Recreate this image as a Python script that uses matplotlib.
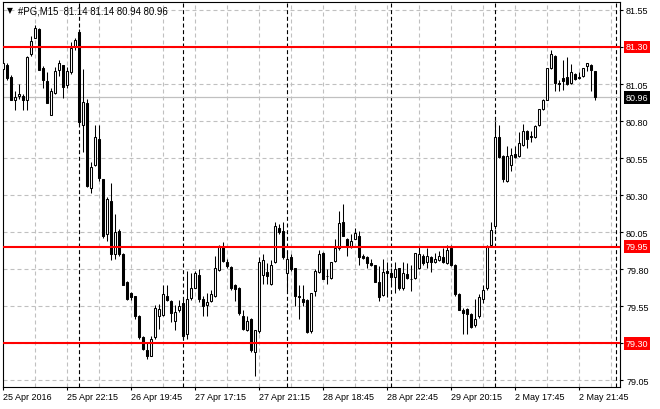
import matplotlib
matplotlib.use("Agg")
import matplotlib.pyplot as plt
import numpy as np

# PG M15 candles, 25 Apr - 2 May 2016
opens = [81.15, 81.18, 81.095, 80.94, 80.97, 80.97, 80.94, 81.25, 81.36, 81.42,
         81.156, 81.07, 80.84, 80.99, 81.147, 81.178, 81.043, 81.13, 81.30, 81.403,
         80.775, 80.92, 80.345, 80.50, 80.678, 80.408, 80.04, 80.26, 79.90, 80.055,
         79.90, 79.71, 79.64, 79.615, 79.485, 79.34, 79.25, 79.215, 79.34, 79.48,
         79.49, 79.615, 79.585, 79.45, 79.52, 79.57, 79.36, 79.605, 79.675, 79.76,
         79.595, 79.555, 79.585, 79.615, 79.795, 79.95, 79.85, 79.815, 79.69, 79.675,
         79.485, 79.385, 79.46, 79.24, 79.38, 79.76, 79.78, 79.70, 79.845, 80.075,
         80.06, 79.77, 79.88, 79.805, 79.615, 79.597, 79.59, 79.38, 79.65, 79.78,
         79.91, 79.75, 79.74, 79.855, 79.94, 80.12, 80.005, 79.95, 80.005, 80.025,
         79.89, 79.88, 79.84, 79.825, 79.715, 79.625, 79.785, 79.77, 79.745, 79.805,
         79.67, 79.765, 79.735, 79.74, 79.805, 79.89, 79.845, 79.88, 79.845, 79.86,
         79.88, 79.84, 79.94, 79.83, 79.63, 79.525, 79.53, 79.495, 79.42, 79.48,
         79.595, 79.67, 79.965, 80.093, 80.695, 80.565, 80.397, 80.50, 80.578, 80.565,
         80.635, 80.735, 80.70, 80.69, 80.77, 80.88, 80.945, 81.16, 81.24, 81.06,
         81.09, 81.095, 81.06, 81.115, 81.095, 81.105, 81.17, 81.18, 81.14]
highs = [81.22, 81.19, 81.11, 81.005, 81.05, 80.985, 81.24, 81.376, 81.449, 81.43,
         81.17, 81.13, 81.02, 81.163, 81.214, 81.178, 81.163, 81.336, 81.36, 81.42,
         81.15, 80.95, 80.525, 80.773, 80.773, 80.41, 80.285, 80.38, 80.17, 80.07,
         79.91, 79.72, 79.645, 79.62, 79.49, 79.35, 79.30, 79.345, 79.56, 79.565,
         79.695, 79.69, 79.59, 79.56, 79.59, 79.60, 79.79, 79.77, 79.79, 79.80,
         79.62, 79.64, 79.66, 79.89, 79.965, 79.985, 79.87, 79.82, 79.70, 79.68,
         79.52, 79.48, 79.47, 79.39, 79.88, 79.90, 79.84, 79.86, 80.115, 80.105,
         80.115, 79.925, 79.90, 79.81, 79.69, 79.69, 79.60, 79.64, 79.80, 79.93,
         79.915, 79.80, 79.85, 80.005, 80.19, 80.24, 80.01, 80.04, 80.08, 80.06,
         79.90, 79.885, 79.87, 79.83, 79.82, 79.865, 79.845, 79.81, 79.845, 79.81,
         79.85, 79.84, 79.83, 79.91, 79.95, 79.90, 79.94, 79.885, 79.91, 79.92,
         79.94, 79.96, 79.96, 79.835, 79.635, 79.54, 79.535, 79.50, 79.60, 79.63,
         79.69, 79.96, 80.115, 80.80, 80.773, 80.57, 80.63, 80.62, 80.63, 80.725,
         80.78, 80.74, 80.735, 80.77, 80.88, 80.95, 81.155, 81.28, 81.245, 81.08,
         81.21, 81.23, 81.185, 81.125, 81.13, 81.16, 81.195, 81.185, 81.14]
lows = [81.12, 81.08, 80.94, 80.876, 80.95, 80.876, 80.876, 81.237, 81.36, 81.147,
        81.02, 80.92, 80.84, 80.98, 81.106, 80.953, 81.02, 81.12, 81.28, 80.78,
        80.59, 80.356, 80.314, 80.498, 80.397, 80.01, 79.99, 79.863, 79.87, 79.89,
        79.69, 79.59, 79.59, 79.46, 79.33, 79.25, 79.19, 79.21, 79.33, 79.395,
        79.48, 79.585, 79.44, 79.385, 79.51, 79.33, 79.33, 79.59, 79.67, 79.58,
        79.48, 79.48, 79.58, 79.61, 79.79, 79.85, 79.81, 79.66, 79.585, 79.49,
        79.39, 79.38, 79.24, 79.08, 79.37, 79.70, 79.70, 79.69, 79.84, 80.04,
        79.87, 79.65, 79.79, 79.55, 79.46, 79.55, 79.37, 79.37, 79.615, 79.77,
        79.73, 79.70, 79.73, 79.85, 79.93, 80.02, 79.89, 79.94, 80.0, 79.825,
        79.87, 79.81, 79.82, 79.71, 79.585, 79.62, 79.61, 79.70, 79.64, 79.66,
        79.66, 79.73, 79.65, 79.735, 79.80, 79.83, 79.805, 79.78, 79.84, 79.855,
        79.84, 79.835, 79.82, 79.62, 79.52, 79.36, 79.36, 79.40, 79.41, 79.47,
        79.57, 79.66, 79.96, 80.07, 80.55, 80.386, 80.39, 80.465, 80.55, 80.56,
        80.63, 80.62, 80.66, 80.685, 80.765, 80.875, 80.94, 81.15, 81.005, 81.005,
        81.01, 81.04, 81.05, 81.08, 81.085, 81.10, 81.14, 81.005, 80.94]
closes = [81.19, 81.09, 80.94, 80.965, 80.98, 80.94, 81.235, 81.34, 81.426, 81.147,
          81.08, 80.92, 81.005, 81.14, 81.19, 81.028, 81.14, 81.29, 81.347, 80.79,
          80.93, 80.363, 80.487, 80.69, 80.415, 80.025, 80.273, 79.90, 80.05, 79.90,
          79.695, 79.60, 79.61, 79.48, 79.34, 79.26, 79.21, 79.33, 79.54, 79.53,
          79.63, 79.59, 79.50, 79.51, 79.55, 79.345, 79.60, 79.67, 79.77, 79.595,
          79.55, 79.575, 79.63, 79.81, 79.955, 79.855, 79.82, 79.67, 79.665, 79.50,
          79.395, 79.45, 79.25, 79.385, 79.845, 79.86, 79.75, 79.83, 80.09, 80.05,
          79.88, 79.865, 79.80, 79.615, 79.61, 79.575, 79.375, 79.635, 79.79, 79.90,
          79.735, 79.75, 79.845, 79.945, 80.11, 80.025, 79.95, 79.99, 80.045, 79.88,
          79.875, 79.84, 79.825, 79.715, 79.613, 79.78, 79.775, 79.745, 79.80, 79.67,
          79.77, 79.74, 79.735, 79.91, 79.90, 79.84, 79.89, 79.85, 79.87, 79.89,
          79.85, 79.93, 79.825, 79.63, 79.525, 79.50, 79.495, 79.405, 79.465, 79.61,
          79.655, 79.955, 80.065, 80.69, 80.555, 80.408, 80.565, 80.57, 80.56, 80.65,
          80.73, 80.68, 80.69, 80.768, 80.88, 80.945, 81.155, 81.25, 81.06, 81.05,
          81.07, 81.05, 81.13, 81.085, 81.09, 81.155, 81.19, 81.147, 80.96]

time_labels = ["25 Apr 2016", "25 Apr 22:15", "26 Apr 19:45", "27 Apr 17:15", "27 Apr 21:15",
               "28 Apr 18:45", "28 Apr 22:45", "29 Apr 20:15", "2 May 17:45", "2 May 21:45"]
label_bars = [0, 16, 32, 48, 64, 80, 96, 112, 128, 144]
day_starts = [19, 45, 71, 97, 123, 153.2]
price_ticks = [79.05, 79.30, 79.55, 79.80, 80.05, 80.30, 80.55, 80.80, 81.05, 81.30, 81.55]
levels = [81.30, 79.95, 79.30]
last_price = 80.96
title = "#PG,M15  81.14 81.14 80.94 80.96"

font = ["Liberation Sans", "DejaVu Sans"]
plt.rcParams["font.family"] = font
fs = 6.5

fig = plt.figure(figsize=(6.6, 4.1), dpi=100)
ax = fig.add_axes([3 / 660, 22 / 410, 617 / 660, 385 / 410])

x = np.arange(len(opens))
o = np.array(opens)
c = np.array(closes)

# grid
for p in price_ticks:
    ax.axhline(p, color="#c0c0c0", lw=0.8, ls=(0, (3.6, 2.7)), zorder=0)
for b in range(8, 155, 8):
    ax.axvline(b, color="#c0c0c0", lw=0.8, ls=(0, (3.6, 2.7)), zorder=0)
for d in day_starts:
    ax.axvline(d, color="black", lw=0.8, ls=(0, (3.6, 2.4)), zorder=1)
ax.axhline(last_price, color="#c0c0c0", lw=0.9, zorder=1)

# candles
ax.vlines(x, lows, highs, color="black", lw=0.75, zorder=2)
fill = ["white" if cc >= oo else "black" for oo, cc in zip(o, c)]
ax.bar(x, c - o, bottom=o, width=0.5, color=fill, edgecolor="black", lw=0.75, zorder=3)

for lv in levels:
    ax.axhline(lv, color="#ff0000", lw=1.5, zorder=4)

ax.set_xlim(-0.075, 154.2)
ax.set_ylim(79.003, 81.604)

ax.yaxis.tick_right()
ax.set_yticks(price_ticks)
ax.set_yticklabels(["" if p in levels else f"{p:.2f}" for p in price_ticks], fontsize=fs)
ax.set_xticks(label_bars)
ax.set_xticklabels(time_labels, fontsize=fs)
for t in ax.get_xticklabels():
    t.set_ha("left")
ax.tick_params(axis="both", direction="out", length=2.2, width=0.8, pad=1.5, colors="black")
ax.tick_params(axis="y", pad=2.2)
for s in ax.spines.values():
    s.set_linewidth(0.8)
    s.set_color("black")

# price boxes on the right scale
bx = 1 + 5.5 / 617
for lv in levels:
    ax.text(bx, lv, f"{lv:.2f}", transform=ax.get_yaxis_transform(), fontsize=fs, color="white",
            va="center", ha="left", bbox=dict(facecolor="#ff0000", edgecolor="none", pad=1.4))
ax.text(bx, last_price, f"{last_price:.2f}", transform=ax.get_yaxis_transform(), fontsize=fs,
        color="white", va="center", ha="left", bbox=dict(facecolor="black", edgecolor="none", pad=1.4))

# header
ax.text(4 / 617, 1 - 8 / 385, "\u25bc", transform=ax.transAxes, fontsize=5.5, va="center", ha="left",
        family=["DejaVu Sans"])
ax.text(15 / 617, 1 - 8 / 385, title, transform=ax.transAxes, fontsize=6.9, va="center", ha="left")

fig.savefig("out.png", dpi=100, facecolor="white")
